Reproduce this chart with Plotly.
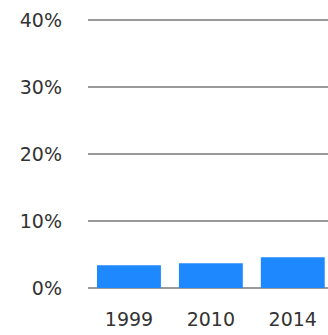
import plotly.graph_objects as go

# Share values by survey year
years = ["1999", "2010", "2014"]
shares = [0.034, 0.037, 0.046]
y_ticks = [0, 0.1, 0.2, 0.3, 0.4]
y_tick_text = ["0%", "10%", "20%", "30%", "40%"]

fig = go.Figure(
    go.Bar(
        x=years,
        y=shares,
        marker=dict(color="#1e88ff", line=dict(width=0)),
        width=0.78,
    )
)

font = dict(family="DejaVu Sans", size=19, color="#333333")

fig.update_layout(
    width=328,
    height=335,
    margin=dict(l=88, r=0, t=2, b=47),
    paper_bgcolor="white",
    plot_bgcolor="white",
    showlegend=False,
    font=font,
    xaxis=dict(
        type="category",
        range=[-0.5, 2.43],
        showgrid=False,
        showline=False,
        zeroline=False,
        ticks="",
        ticklabelstandoff=18,
        tickfont=font,
    ),
    yaxis=dict(
        range=[0, 0.4275],
        tickvals=y_ticks,
        ticktext=y_tick_text,
        showgrid=True,
        gridcolor="#999999",
        gridwidth=2,
        zeroline=True,
        zerolinecolor="#999999",
        zerolinewidth=2,
        showline=False,
        ticks="",
        ticklabelstandoff=25,
        tickfont=font,
    ),
)

fig.write_html("out.html")
